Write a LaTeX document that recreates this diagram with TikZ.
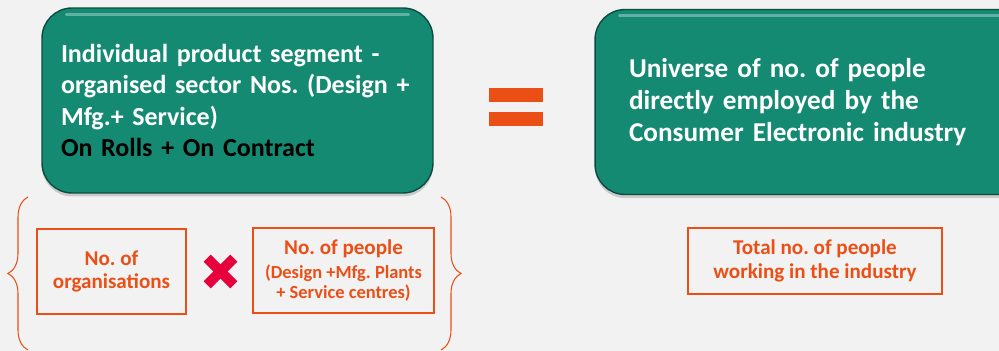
\documentclass[tikz,border=0pt]{standalone}
\usepackage{fontspec}
\setmainfont{Carlito}
\usepackage{xcolor}
\usepackage{tikz}
\usetikzlibrary{positioning}
\usetikzlibrary{shadows}
\usetikzlibrary{decorations.pathreplacing}

\definecolor{pagegray}{HTML}{F2F2F2}
\definecolor{boxgreen}{HTML}{158A73}
\definecolor{accent}{HTML}{EB4F16}
\definecolor{crossred}{HTML}{E6003C}
\newcommand{\finetext}{\fontsize{10.5}{11.3}\selectfont\bfseries}
\frenchspacing

\begin{document}
\begin{tikzpicture}
  [ x=0.02cm, y=-0.02cm,
    bigbox/.style={fill=boxgreen, draw=boxgreen!55!black, line width=0.8pt,
      rounded corners=0.6cm, minimum height=3.7cm, align=left,
      text=white, font=\fontsize{14.8}{18}\selectfont\bfseries,
      drop shadow={opacity=0.35, shadow xshift=0pt, shadow yshift=-2pt}},
    gloss/.style={draw=boxgreen!40!white, line width=1.5pt, line cap=round, opacity=0.55},
    factor/.style={draw=accent, line width=1.3pt, minimum height=1.7cm,
      align=center, text=accent, font=\fontsize{12}{13.6}\selectfont\bfseries},
    bar/.style={fill=accent},
    crossline/.style={draw=crossred, line width=0.2cm, shorten >=0.1cm, shorten <=0.1cm},
    curly/.style={draw=accent, line width=0.6pt, decorate,
      decoration={brace, amplitude=0.4cm}}
  ]
  \fill[pagegray] (0,0) rectangle (999,351);
  \useasboundingbox (0,0) rectangle (999,351);

  \node (segbox) at (237.5,100.5) [bigbox, minimum width=7.82cm, text width=7.06cm]
    {Individual product segment -\\organised sector Nos. (Design +\\Mfg.+ Service)\\
     \textcolor{black}{On Rolls + On Contract}};
  \node (unibox) at (815,102) [bigbox, minimum width=8.8cm, text width=7.44cm,
    font=\fontsize{15.5}{18}\selectfont\bfseries]
    {Universe of no. of people\\directly employed by the\\Consumer Electronic industry\\[14pt]};

  \draw[gloss] ([xshift=0.5cm,yshift=-0.14cm]segbox.north west) -- ([xshift=-0.5cm,yshift=-0.14cm]segbox.north east);
  \draw[gloss] ([xshift=0.5cm,yshift=-0.14cm]unibox.north west) -- ([xshift=-0.5cm,yshift=-0.14cm]unibox.north east);

  % equals sign between the two boxes
  \node (equals) at (516,107) [minimum width=1.08cm, minimum height=0.76cm] {};
  \fill[bar] (equals.north west) rectangle ++(54,14);
  \fill[bar] (equals.south west) rectangle ++(54,-14);

  \node (orgs)   at (111.5,271.5) [factor, minimum width=2.98cm] {No. of\\organisations};
  \node (people) at (343.5,270.5) [factor, minimum width=3.62cm]
    {No. of people\\\finetext(Design +Mfg. Plants\\[-2.3pt]\finetext+ Service centres)};
  \node (total)  at (815,261) [factor, minimum width=5.08cm, minimum height=1.32cm]
    {Total no. of people\\working in the industry};

  % multiplication cross
  \node (times) at (220.5,271.5) [minimum size=0.66cm, inner sep=0pt] {};
  \draw[crossline] (times.north west) -- (times.south east);
  \draw[crossline] (times.north east) -- (times.south west);

  \coordinate (lbtop) at (28,197);
  \coordinate (lbbot) at (28,350);
  \coordinate (rbtop) at (441,197);
  \coordinate (rbbot) at (441,350);
  \draw[curly] (lbbot) -- (lbtop);
  \draw[curly] (rbtop) -- (rbbot);
\end{tikzpicture}
\end{document}
